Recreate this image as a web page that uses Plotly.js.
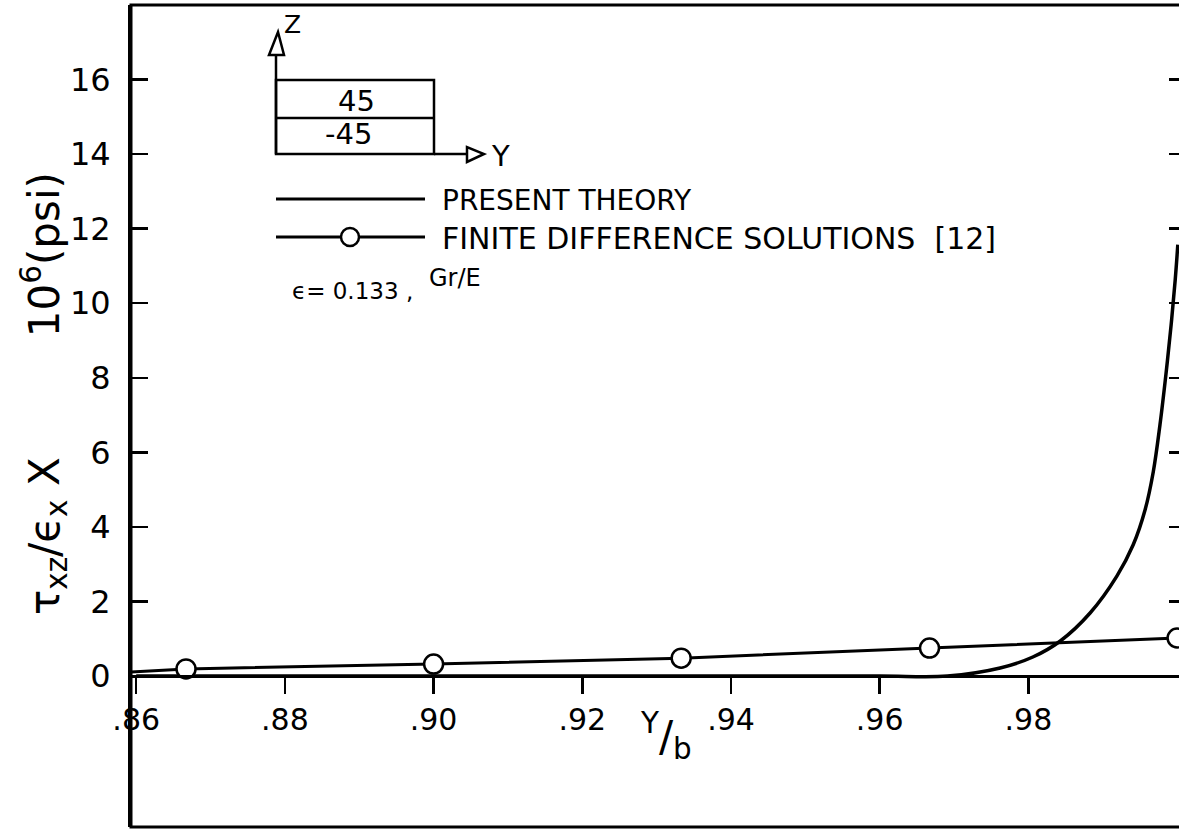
<!DOCTYPE html>
<html><head><meta charset="utf-8">
<script src="https://cdn.plot.ly/plotly-3.0.1.min.js"></script>
<style>html,body{margin:0;padding:0;overflow:hidden;background:#fff;width:1179px;height:829px}</style>
</head><body><div id="chart"></div>
<script>
// ---- data ----
const xTheory = [0.860, 0.900, 0.940, 0.960, 0.9691, 0.9762, 0.9806, 0.9843, 0.9883, 0.9919, 0.9941, 0.9957, 0.9968, 0.9977, 0.9985, 0.9992, 0.99975, 1.0001];
const yTheory = [0, 0, 0, 0, 0, 0.215, 0.51, 0.94, 1.69, 2.68, 3.52, 4.46, 5.48, 6.74, 8.09, 9.42, 10.63, 11.57];
const xFD = [0.8593, 0.8667, 0.9000, 0.9333, 0.9667, 1.000];
const yFD = [0.11, 0.19, 0.32, 0.48, 0.75, 1.02];
const xTickVals = [0.86, 0.88, 0.90, 0.92, 0.94, 0.96, 0.98];
const xTickText = ['.86', '.88', '.90', '.92', '.94', '.96', '.98'];
const yTickVals = [0, 2, 4, 6, 8, 10, 12, 14, 16];
const seriesNames = ['PRESENT THEORY', 'FINITE DIFFERENCE SOLUTIONS [12]'];
const layerLabels = ['45', '-45'];
const noteText = 'ϵ= 0.133 ,';
const noteSup = 'Gr/E';
const xTitle = '<sup>Y</sup>/<sub>b</sub>';
const yTitleParts = ['τ<sub>xz</sub>/ϵ<sub>x</sub>', 'X', '10<sup>6</sup>(psi)'];

// ---- layout geometry ----
const W = 1200, H = 829, L = 131, R = 14, T = 5, B = 2;
const pw = W - L - R, ph = H - T - B;
const px = v => (v - L) / pw;
const py = v => (T + ph - v) / ph;
const xRange = [0.8593, 1.0012];
const yRange = [-4.05, 18.0];
const FONT = 'DejaVu Sans';
const NB = '\u00A0';
const sp = n => NB.repeat(n);

const fdSizes = xFD.map((x, i) => i === 0 ? 0 : 19);
const fdLineW = xFD.map((x, i) => i === 0 ? 0 : 2.5);

const traces = [
  {x: xTheory, y: yTheory, name: seriesNames[0], mode: 'lines',
   line: {color: '#000', width: 3.5, shape: 'spline', smoothing: 1}, showlegend: false},
  {x: xFD, y: yFD, name: seriesNames[1], mode: 'lines+markers',
   line: {color: '#000', width: 3},
   marker: {symbol: 'circle', color: '#fff', opacity: 1, size: fdSizes, line: {color: '#000', width: fdLineW}},
   showlegend: false}
];

const blk = {color: '#000', width: 2.5};
const shapes = [
  // frame
  {type: 'rect', xref: 'paper', yref: 'paper', x0: 0, x1: 1, y0: 0, y1: 1, line: {color: '#000', width: 3}},
  // inset: Z axis
  {type: 'line', xref: 'paper', yref: 'paper', x0: px(276), x1: px(276), y0: py(154), y1: py(55), line: blk},
  {type: 'path', xref: 'paper', yref: 'paper', fillcolor: '#fff', line: blk,
   path: `M ${px(269)},${py(55)} L ${px(284)},${py(55)} L ${px(278)},${py(32)} Z`},
  // inset: laminate box
  {type: 'rect', xref: 'paper', yref: 'paper', x0: px(276), x1: px(434), y0: py(154), y1: py(80), line: blk},
  {type: 'line', xref: 'paper', yref: 'paper', x0: px(276), x1: px(434), y0: py(118), y1: py(118), line: blk},
  // inset: Y axis
  {type: 'line', xref: 'paper', yref: 'paper', x0: px(434), x1: px(467), y0: py(154), y1: py(154), line: blk},
  {type: 'path', xref: 'paper', yref: 'paper', fillcolor: '#fff', line: blk,
   path: `M ${px(467)},${py(147)} L ${px(467)},${py(162)} L ${px(484)},${py(154)} Z`},
  // legend keys
  {type: 'line', xref: 'paper', yref: 'paper', x0: px(276), x1: px(425), y0: py(199), y1: py(199), line: {color: '#000', width: 3}},
  {type: 'line', xref: 'paper', yref: 'paper', x0: px(276), x1: px(425), y0: py(237), y1: py(237), line: {color: '#000', width: 3}},
  {type: 'circle', xref: 'paper', yref: 'paper', x0: px(341), x1: px(359), y0: py(246), y1: py(228),
   fillcolor: '#fff', line: {color: '#000', width: 2.5}}
];

const ann = (text, x, y, size, xanchor, angle) => ({text, xref: 'paper', yref: 'paper', x: px(x), y: py(y),
  xanchor: xanchor || 'center', yanchor: 'middle', showarrow: false, textangle: angle || 0,
  font: {family: FONT, size, color: '#000'}});

const annotations = [
  ann('Z', 292, 24, 25),
  ann(layerLabels[0], 356, 101, 29),
  ann(layerLabels[1], 348, 134, 29),
  ann('Y', 500, 156, 29),
  ann(seriesNames[0], 440, 200, 28, 'left'),
  ann(seriesNames[1].replace(' [', sp(2) + '['), 440, 238, 30, 'left'),
  ann(noteText, 290, 291, 23, 'left'),
  ann(noteSup, 427, 278, 24, 'left'),
  ann(xTitle, 666, 736, 42),
  ann(yTitleParts[0] + sp(1) + yTitleParts[1] + sp(9) + yTitleParts[2], 44, 394, 42, 'center', -90)
];

const layout = {
  width: W, height: H,
  margin: {l: L, r: R, t: T, b: B, pad: 0},
  paper_bgcolor: '#fff', plot_bgcolor: '#fff',
  font: {family: FONT, color: '#000'},
  showlegend: false,
  xaxis: {
    range: xRange, anchor: 'free', position: (0 - yRange[0]) / (yRange[1] - yRange[0]),
    showline: true, linecolor: '#000', linewidth: 3,
    ticks: 'outside', ticklen: 16, tickwidth: 2.5, tickcolor: '#000',
    tickmode: 'array', tickvals: xTickVals, ticktext: xTickText,
    tickfont: {family: FONT, size: 30, color: '#000'},
    showgrid: false, zeroline: false
  },
  yaxis: {
    range: yRange,
    showline: true, linecolor: '#000', linewidth: 3, mirror: 'ticks',
    ticks: 'inside', ticklen: 17, tickwidth: 2.5, tickcolor: '#000',
    tickmode: 'array', tickvals: yTickVals,
    tickfont: {family: FONT, size: 32, color: '#000'},
    ticklabelstandoff: 11,
    showgrid: false, zeroline: false
  },
  shapes, annotations
};

Plotly.newPlot('chart', traces, layout, {displayModeBar: false, staticPlot: true});
</script></body></html>
